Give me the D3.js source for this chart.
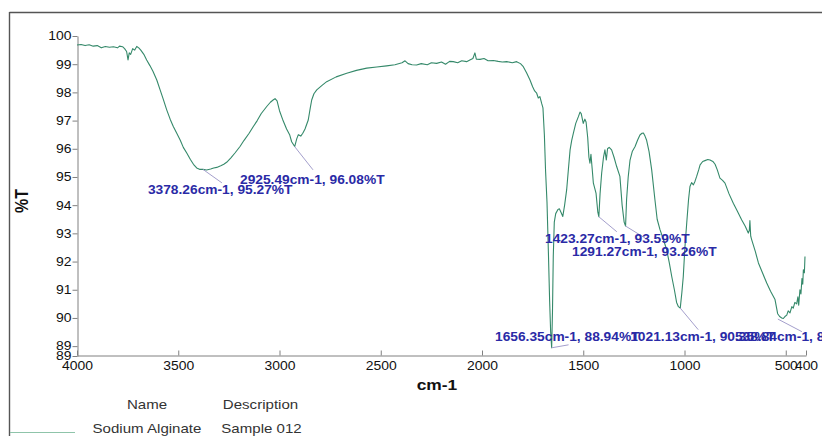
<!DOCTYPE html>
<html>
<head>
<meta charset="utf-8">
<script src="https://cdn.jsdelivr.net/npm/d3@7"></script>
<style>
  html, body { margin: 0; padding: 0; background: #fff; }
  svg { display: block; font-family: "Liberation Sans", Arial, sans-serif; }
</style>
</head>
<body>
<svg id="chart" width="822" height="436"></svg>
<script>
// ---- data ----
const spectrumWn = [4000,3980,3960,3940,3920,3900,3880,3860,3840,3820,3800,3790,3775,3765,3755,3748,3742,3735,3725,3715,3705,3695,3685,3670,3656,3640,3625,3606,3590,3575,3557,3540,3525,3508,3490,3475,3458,3440,3425,3409,3395,3378,3360,3340,3325,3310,3290,3275,3261,3240,3220,3195,3175,3150,3130,3110,3090,3063,3045,3030,3022,3012,3000,2985,2965,2950,2940,2925,2915,2907,2895,2885,2874,2858,2848,2841,2830,2816,2790,2767,2720,2668,2620,2569,2520,2471,2430,2395,2380,2365,2345,2323,2300,2270,2250,2224,2200,2180,2160,2142,2120,2100,2076,2060,2045,2035,2028,2010,1990,1970,1944,1920,1900,1878,1850,1829,1810,1796,1780,1763,1750,1740,1730,1722,1714,1705,1699,1692,1686,1679,1672,1666,1661,1656,1652,1648,1643,1636,1625,1618,1610,1601,1592,1582,1573,1565,1557,1549,1537,1524,1516,1510,1500,1492,1486,1478,1472,1467,1462,1456,1450,1437,1428,1423,1417,1409,1400,1393,1386,1380,1372,1360,1348,1335,1319,1308,1298,1291,1286,1278,1269,1258,1244,1232,1220,1210,1203,1195,1187,1175,1162,1146,1135,1121,1105,1088,1075,1063,1050,1039,1030,1021,1013,1006,998,989,980,973,965,956,948,940,930,923,910,899,885,874,860,849,838,825,812,800,780,759,740,718,700,685,680,677,673,668,650,635,615,594,575,553,540,530,520,512,504,495,488,479,470,463,455,446,440,436,430,425,420,416,413,408,405];
const spectrumT = [99.68,99.70,99.66,99.69,99.64,99.66,99.58,99.63,99.60,99.62,99.58,99.64,99.62,99.55,99.45,99.15,99.40,99.35,99.55,99.50,99.63,99.58,99.50,99.35,99.15,98.95,98.75,98.44,98.10,97.78,97.38,97.05,96.80,96.56,96.30,96.05,95.85,95.62,95.45,95.32,95.27,95.27,95.25,95.28,95.32,95.34,95.40,95.45,95.52,95.68,95.85,96.08,96.30,96.55,96.78,97.00,97.25,97.50,97.65,97.74,97.78,97.70,97.35,97.05,96.70,96.50,96.25,96.08,96.35,96.50,96.45,96.55,96.70,97.02,97.45,97.73,97.95,98.09,98.25,98.38,98.55,98.68,98.78,98.86,98.90,98.94,98.98,99.05,99.12,99.02,98.98,98.97,99.02,98.98,99.05,99.03,99.08,99.00,99.10,99.09,99.05,99.12,99.09,99.15,99.20,99.40,99.18,99.17,99.20,99.12,99.13,99.10,99.08,99.09,99.05,99.09,99.02,98.91,98.70,98.44,98.20,98.05,97.97,97.80,97.85,97.60,97.45,96.50,95.20,94.10,92.30,90.60,89.50,88.94,90.20,92.20,93.40,93.70,93.85,93.87,93.75,93.60,94.00,94.54,95.30,95.96,96.30,96.55,96.90,97.14,97.30,97.25,96.90,97.05,96.95,96.40,95.70,95.49,95.80,95.30,94.78,94.43,93.75,93.59,94.40,95.14,95.70,95.96,95.60,96.00,96.05,95.96,95.70,95.37,95.02,94.00,93.40,93.26,94.20,95.00,95.60,95.90,96.08,96.30,96.49,96.55,96.56,96.45,96.30,95.90,95.25,94.19,93.50,93.13,92.80,92.42,91.95,91.47,91.00,90.55,90.40,90.35,90.90,91.47,92.50,93.37,94.20,94.66,94.80,94.72,94.85,95.02,95.25,95.43,95.55,95.58,95.62,95.60,95.55,95.45,95.25,94.96,94.88,94.78,94.40,94.07,93.80,93.48,93.25,93.01,93.10,93.45,92.90,92.77,92.35,91.95,91.60,91.24,90.95,90.65,90.15,90.05,90.00,89.98,90.05,90.10,90.25,90.18,90.40,90.35,90.55,90.50,90.75,90.45,91.00,90.85,91.40,91.20,91.71,91.60,92.18];

const peakWn = [3378.26, 2925.49, 1423.27, 1291.27, 1656.35, 1021.13, 538.84];
const peakT  = [95.27, 96.08, 93.59, 93.26, 88.94, 90.35, 89.96];

const xTicks = [4000, 3500, 3000, 2500, 2000, 1500, 1000, 500, 400];
const yTicks = [100, 99, 98, 97, 96, 95, 94, 93, 92, 91, 90, 89, 88.65];

const legendName = "Sodium Alginate";
const legendDescription = "Sample 012";

// label layout (pixel offsets from each peak point): [textDx, textDy, leaderDx, leaderDy]
const labelOffsets = [
  [-55, 25, 19, 13.5],
  [-54.6, 37.8, 18.4, 23.3],
  [-53.8, 26, 18, 15],
  [-53.5, 30, 19.5, 12],
  [-56.6, -7, 17, -3],
  [-50, 32.5, 18, 21.6],
  [-43, 21.5, 24, 12.6]
];

// ---- chart ----
const K = 1.16;          // horizontal stretch of the original bitmap
const svg = d3.select("#chart");

const x = d3.scaleLinear().domain([4000, 400]).range([77, 806]);
const y = d3.scaleLinear().domain([88.65, 100]).range([356, 36]);

// frame
svg.append("line").attr("x1", 9.5).attr("x2", 822).attr("y1", 12.5).attr("y2", 12.5)
  .attr("stroke", "#555").attr("stroke-width", 1.4);
svg.append("line").attr("x1", 9.5).attr("x2", 9.5).attr("y1", 12).attr("y2", 436)
  .attr("stroke", "#555").attr("stroke-width", 1.4);

function stretchText(sel) {
  sel.each(function () {
    const t = d3.select(this);
    const x0 = +t.attr("x") || 0;
    t.attr("x", x0 / K).attr("transform", `scale(${K},1)`);
  });
}

// x axis
const xAxis = d3.axisBottom(x).tickValues(xTicks).tickSize(-5).tickSizeOuter(0).tickPadding(6)
  .tickFormat(d3.format("d"));
const gx = svg.append("g").attr("transform", "translate(0,355.5)").call(xAxis);
gx.select(".domain").attr("stroke", "#808080");
gx.selectAll(".tick line").attr("stroke", "#808080");
gx.selectAll(".tick text").attr("fill", "#111").attr("font-size", 12)
  .attr("font-family", "'Liberation Sans', Arial, sans-serif").call(stretchText);

// y axis
const yAxis = d3.axisLeft(y).tickValues(yTicks).tickSize(5).tickSizeOuter(0).tickPadding(1)
  .tickFormat(d3.format(".0f"));
const gy = svg.append("g").attr("transform", "translate(77.5,0)").call(yAxis);
gy.select(".domain").attr("stroke", "#808080");
gy.selectAll(".tick line").attr("stroke", "#808080");
gy.selectAll(".tick text").attr("fill", "#111").attr("font-size", 12)
  .attr("font-family", "'Liberation Sans', Arial, sans-serif").call(stretchText);

// axis titles
svg.append("text").attr("transform", `translate(437,390) scale(${K},1)`)
  .attr("text-anchor", "middle").attr("font-size", 15).attr("font-weight", "bold")
  .attr("fill", "#111").text("cm-1");
svg.append("text").attr("transform", `translate(28,201) scale(${K},1) rotate(-90)`)
  .attr("text-anchor", "middle").attr("font-size", 16).attr("font-weight", "bold")
  .attr("fill", "#111").text("%T");

// spectrum
const pts = spectrumWn.map((w, i) => [w, spectrumT[i]]);
const line = d3.line().x(d => x(d[0])).y(d => y(d[1]));
svg.append("path").datum(pts).attr("d", line)
  .attr("fill", "none").attr("stroke", "#35896a").attr("stroke-width", 1.1)
  .attr("stroke-linejoin", "round");

// peak annotations
const labelFmt = (w, t) => `${w.toFixed(2)}cm-1, ${t.toFixed(2)}%T`;
peakWn.forEach((w, i) => {
  const px = x(w), py = y(peakT[i]);
  const o = labelOffsets[i];
  svg.append("line").attr("x1", px).attr("y1", py).attr("x2", px + o[2]).attr("y2", py + o[3])
    .attr("stroke", "#a49fcc").attr("stroke-width", 1);
});
peakWn.forEach((w, i) => {
  const px = x(w), py = y(peakT[i]);
  const o = labelOffsets[i];
  svg.append("text").attr("transform", `translate(${px + o[0]},${py + o[1]}) scale(1.06,1)`)
    .attr("font-size", 13).attr("font-weight", "bold").attr("fill", "#2a2aa6")
    .text(labelFmt(w, peakT[i]));
});

// legend
const legendText = (tx, ty, s) => svg.append("text")
  .attr("transform", `translate(${tx},${ty}) scale(${K},1)`)
  .attr("text-anchor", "middle").attr("font-size", 13).attr("fill", "#333").text(s);
legendText(147, 409, "Name");
legendText(260.5, 409, "Description");
legendText(147, 432.5, legendName);
legendText(261.5, 432.5, legendDescription);
svg.append("line").attr("x1", 10).attr("x2", 75).attr("y1", 432.5).attr("y2", 432.5)
  .attr("stroke", "#8fc4aa").attr("stroke-width", 1);
</script>
</body>
</html>
